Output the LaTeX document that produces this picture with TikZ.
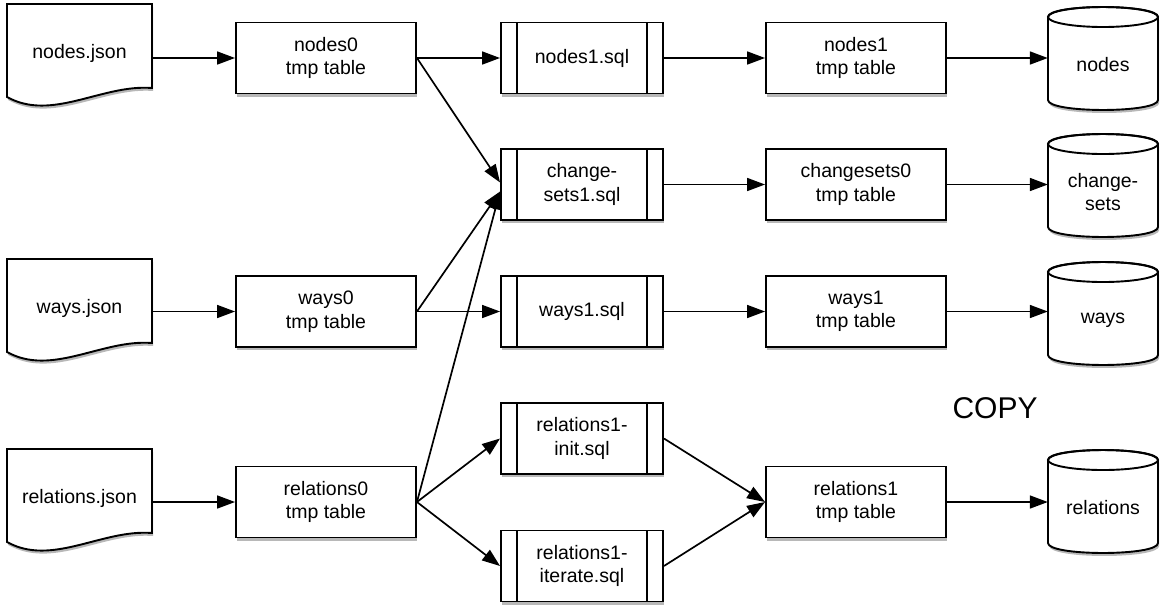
\documentclass[tikz,border=0pt]{standalone}
\usepackage{fontspec}
\setmainfont{Liberation Sans}
\usetikzlibrary{arrows.meta,calc,shadows}
\tikzset{
  shad/.style={drop shadow={shadow xshift=1.2pt, shadow yshift=-3pt, opacity=0.28, fill=black}},
  shapeline/.style={draw=black, line width=1.9pt, fill=white, shad},
  lbl/.style={font=\fontsize{19.5}{23.5}\selectfont, align=center, inner sep=0pt},
  box/.style={shapeline, lbl, minimum width=180pt, minimum height=71pt},
  sqlbox/.style={box, minimum width=162pt,
    path picture={
      \draw[line width=1.9pt] ([xshift=16pt]path picture bounding box.north west) -- ([xshift=16pt]path picture bounding box.south west);
      \draw[line width=1.9pt] ([xshift=-16pt]path picture bounding box.north east) -- ([xshift=-16pt]path picture bounding box.south east);
    }},
  doc/.style={lbl, minimum width=145pt, minimum height=98pt},
  cylnode/.style={lbl, minimum width=110pt, minimum height=60pt},
  conn/.style={line width=1.7pt, -{Triangle[length=18pt,width=13pt]}},
}
\newcommand\docnode[4]{%
  \draw[shapeline] ($(#2,#3)+(-72.5,-49)$) -- ($(#2,#3)+(72.5,-49)$) -- ($(#2,#3)+(72.5,35)$)
    .. controls ($(#2,#3)+(22.5,31)$) and ($(#2,#3)+(-27.5,69)$) .. ($(#2,#3)+(-72.5,44)$) -- cycle;
  \node[doc] (#1) at (#2,#3) {#4};}
\newcommand\cylnodeat[4]{%
  \draw[shapeline] ($(#2,#3)+(-55,-48)$) -- ($(#2,#3)+(-55,35)$)
    .. controls ($(#2,#3)+(-55,48.3)$) and ($(#2,#3)+(55,48.3)$) .. ($(#2,#3)+(55,35)$)
    -- ($(#2,#3)+(55,-48)$)
    .. controls ($(#2,#3)+(55,-61.3)$) and ($(#2,#3)+(-55,-61.3)$) .. cycle;
  \draw[line width=1.9pt] ($(#2,#3)+(0,-48)$) ellipse [x radius=55pt, y radius=10pt];
  \node[cylnode] (#1) at (#2,#3) {#4};}
\begin{document}
\begin{tikzpicture}[x=1pt, y=-1pt]
\useasboundingbox[fill=white] (0,0) rectangle (1164,614);

% input documents
\docnode{nj}{79.5}{53}{nodes.json}
\docnode{wj}{79.5}{308}{ways.json}
\docnode{rj}{79.5}{498}{relations.json}

% tmp tables column 2
\node[box] (n0) at (326,58) {nodes0\\tmp table};
\node[box] (w0) at (326,311.5) {ways0\\tmp table};
\node[box] (r0) at (326,502) {relations0\\tmp table};

% sql column 3
\node[sqlbox] (n1s) at (582,58) {nodes1.sql};
\node[sqlbox] (cs) at (582,184.5) {change-\\sets1.sql};
\node[sqlbox] (w1s) at (582,311.5) {ways1.sql};
\node[sqlbox] (ri) at (582,438.5) {relations1-\\init.sql};
\node[sqlbox] (rit) at (582,566) {relations1-\\iterate.sql};

% tmp tables column 4
\node[box] (n1) at (856,58) {nodes1\\tmp table};
\node[box] (c0) at (856,184.5) {changesets0\\tmp table};
\node[box] (w1) at (856,311.5) {ways1\\tmp table};
\node[box] (r1) at (856,502) {relations1\\tmp table};

% cylinders
\cylnodeat{nodes}{1103}{65}{nodes}
\cylnodeat{changesets}{1103}{192}{change-\\sets}
\cylnodeat{ways}{1103}{320}{ways}
\cylnodeat{relations}{1103}{508}{relations}

\node[font=\fontsize{30}{36}\selectfont, inner sep=0pt] (copy) at (995,408) {COPY};

% connectors
\draw[conn] (nj.east |- n0.west) -- (n0.west);
\draw[conn] (wj.east |- w0.west) -- (w0.west);
\draw[conn] (rj.east |- r0.west) -- (r0.west);

\draw[conn] (n0.east) -- (n1s.west);
\draw[conn] (n0.east) -- ([yshift=2pt]cs.west);
\draw[conn] (w0.east) -- ([yshift=-7pt]cs.west);
\draw[conn] (r0.east) -- ([yshift=-7pt]cs.west);
\draw[conn] (w0.east) -- (w1s.west);
\draw[conn] (r0.east) -- (ri.west);
\draw[conn] (r0.east) -- (rit.west);

\draw[conn] (n1s.east) -- (n1.west);
\draw[conn] (cs.east) -- (c0.west);
\draw[conn] (w1s.east) -- (w1.west);
\draw[conn] (ri.east) -- (r1.west);
\draw[conn] (rit.east) -- (r1.west);

\draw[conn] (n1.east) -- (n1.east -| nodes.west);
\draw[conn] (c0.east) -- (c0.east -| changesets.west);
\draw[conn] (w1.east) -- (w1.east -| ways.west);
\draw[conn] (r1.east) -- (r1.east -| relations.west);
\end{tikzpicture}
\end{document}
